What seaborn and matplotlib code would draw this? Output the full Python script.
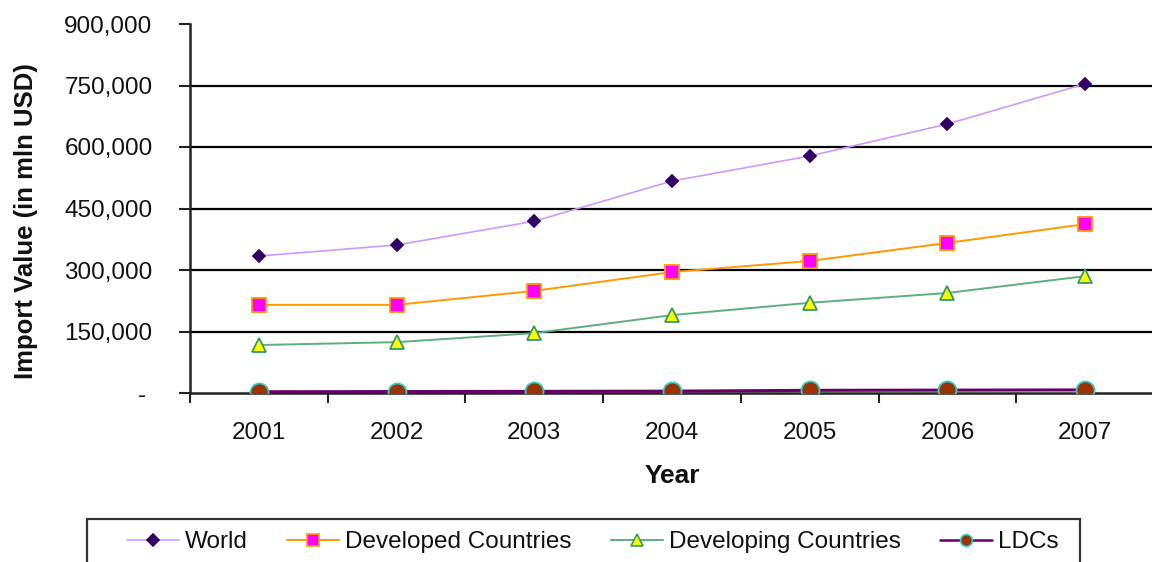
import matplotlib
matplotlib.use("Agg")
import matplotlib.pyplot as plt
import seaborn as sns
import numpy as np
from matplotlib.lines import Line2D
from matplotlib.patches import Rectangle
from matplotlib.ticker import FixedLocator, FuncFormatter

years = ["2001", "2002", "2003", "2004", "2005", "2006", "2007"]
world = [334000, 361000, 419000, 517000, 578000, 656000, 754000]
developed = [215000, 215000, 249000, 295000, 322000, 366000, 412000]
developing = [117000, 124000, 146000, 190000, 220000, 244000, 285000]
ldcs = [3000, 3500, 4000, 4500, 6500, 7000, 7500]
series_names = ["World", "Developed Countries", "Developing Countries", "LDCs"]

sns.set_theme(style="white")
plt.rcParams["font.family"] = ["Liberation Sans", "DejaVu Sans"]

W, H = 1152, 562
fig = plt.figure(figsize=(W / 100, H / 100), dpi=100)
ax = fig.add_axes([190 / W, 1 - 393 / H, (1154 - 190) / W, (393 - 24) / H])

x = np.arange(len(years))
styles = [
    dict(values=world, color="#CC99FF", marker="D", mfc="#330066", mec="#330066", ms=6.5, lw=1.2, lms=6),
    dict(values=developed, color="#FF9900", marker="s", mfc="#FF00FF", mec="#FF9900", ms=10, lw=1.4, lms=8.5),
    dict(values=developing, color="#5FAE7F", marker="^", mfc="#FFFF00", mec="#339966", ms=10, lw=1.4, lms=8),
    dict(values=ldcs, color="#660066", marker="o", mfc="#993300", mec="#33CCCC", ms=13, lw=2.2, lms=8.5),
]
for name, st in zip(series_names, styles):
    sns.lineplot(x=x, y=st["values"], ax=ax, color=st["color"], marker=st["marker"],
                 markerfacecolor=st["mfc"], markeredgecolor=st["mec"], markersize=st["ms"],
                 markeredgewidth=1.3, linewidth=st["lw"], label=name, legend=False, zorder=5)

ax.set_xlim(-0.5, len(years) - 0.5)
ax.set_ylim(0, 900000)

# category axis: labels at the centres, ticks on the boundaries
ax.xaxis.set_major_locator(FixedLocator(x))
ax.set_xticklabels(years)
ax.xaxis.set_minor_locator(FixedLocator(np.arange(-0.5, len(years), 1.0)))
ax.tick_params(axis="x", which="major", length=0, pad=21, labelsize=17.5, labelcolor="#111111")
ax.tick_params(axis="x", which="minor", bottom=True, length=7, width=1.5, color="#222222", direction="out")

yt = np.arange(0, 900001, 150000)
ax.yaxis.set_major_locator(FixedLocator(yt))
ax.yaxis.set_major_formatter(FuncFormatter(lambda v, p: "- " if v == 0 else f"{int(v):,}"))
ax.tick_params(axis="y", left=True, length=8, width=1.5, color="#222222", direction="out",
               pad=19, labelsize=17.5, labelcolor="#111111")

ax.grid(axis="y", color="black", linewidth=1.6)
ax.grid(axis="x", visible=False)
ax.get_ygridlines()[-1].set_visible(False)
ax.get_ygridlines()[0].set_visible(False)

for side in ["top", "right"]:
    ax.spines[side].set_visible(False)
for side in ["left", "bottom"]:
    ax.spines[side].set_color("#222222")
    ax.spines[side].set_linewidth(1.8)

ax.set_xlabel("Year", fontsize=19, fontweight="bold", labelpad=14, color="#111111")
ax.set_ylabel("")
fig.text(26 / W, 1 - 221 / H, "Import Value (in mln USD)", rotation=90, ha="center", va="center",
         fontsize=18.5, fontweight="bold", color="#111111")

# legend box along the bottom
fig.patches.append(Rectangle((87 / W, -0.05), (1080 - 87) / W, 0.05 + (H - 519) / H,
                             transform=fig.transFigure, facecolor="white", edgecolor="#333333",
                             linewidth=1.6, zorder=1))
handles = [Line2D([], [], color=st["color"], marker=st["marker"], markerfacecolor=st["mfc"],
                  markeredgecolor=st["mec"], markersize=st["lms"], markeredgewidth=1.2,
                  linewidth=st["lw"] if st["lw"] < 2 else 1.8) for st in styles]
leg = fig.legend(handles, series_names, loc="center left", bbox_to_anchor=(127 / W, 1 - 542 / H),
                 ncol=4, fontsize=17.5, frameon=False, handlelength=2.15, columnspacing=1.6,
                 handletextpad=0.25, borderpad=0, borderaxespad=0)
for t in leg.get_texts():
    t.set_color("#111111")

fig.savefig("out.png", dpi=100)
